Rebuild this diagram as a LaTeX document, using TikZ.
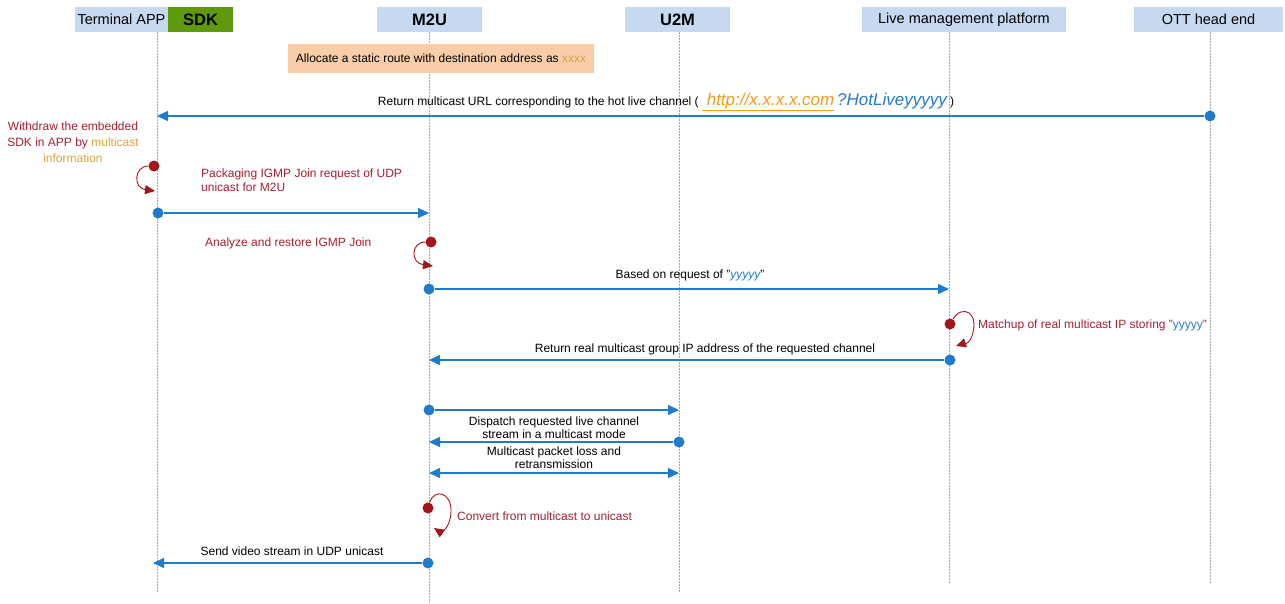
\documentclass[tikz,border=0pt]{standalone}
\usepackage{fontspec}
\setmainfont{Liberation Sans}
\usetikzlibrary{arrows.meta}
\definecolor{hdr}{HTML}{C6D9F1}
\definecolor{sdkg}{HTML}{5E9A0C}
\definecolor{msgblue}{HTML}{1F7BCB}
\definecolor{selfred}{HTML}{A3161C}
\definecolor{txtred}{HTML}{A32030}
\definecolor{gold}{HTML}{D9A441}
\definecolor{urlorange}{HTML}{F29B1D}
\definecolor{peach}{HTML}{F9CDA8}
\begin{document}
\begin{tikzpicture}[x=1pt,y=-1pt,
 hdrbox/.style={fill=hdr, draw=none, inner sep=0, minimum height=25pt, font=\fontsize{14.5}{16}\selectfont},
 hdrbold/.style={hdrbox, font=\fontsize{16.5}{18}\selectfont\bfseries},
 life/.style={draw=gray!70, dash pattern=on 1.5pt off 1.5pt, line width=0.7pt},
 msg/.style={draw=msgblue, line width=1.2pt, -{Triangle[length=11pt,width=10pt]}},
 dmsg/.style={draw=msgblue, line width=1.2pt, {Triangle[length=11pt,width=10pt]}-{Triangle[length=11pt,width=10pt]}},
 dot/.style={circle, fill=msgblue, inner sep=0, minimum size=11pt},
 rdot/.style={circle, fill=selfred, inner sep=0, minimum size=11pt},
 selfarr/.style={draw=selfred, line width=0.9pt, -{Triangle[length=10pt,width=9pt]}},
 lbl/.style={font=\fontsize{12}{14}\selectfont, text=black, inner sep=0},
 rlbl/.style={font=\fontsize{12}{14}\selectfont, text=txtred, inner sep=0},
]
\useasboundingbox (0,0) rectangle (1285,603);

% headers
\node[hdrbox, minimum width=93pt] (term) at (121.5,19.5) {Terminal APP};
\node[hdrbold, fill=sdkg, minimum width=65pt] (sdk) at (200.5,19.5) {SDK};
\node[hdrbold, minimum width=105pt] (m2u) at (429.5,19.5) {M2U};
\node[hdrbold, minimum width=105pt] (u2m) at (677.5,19.5) {U2M};
\node[hdrbox, minimum width=204pt] (live) at (964,19.5) {Live management platform};
\node[hdrbox, minimum width=149pt] (ott) at (1208.5,19.5) {OTT head end};

% lifelines
\draw[life] (157,32) -- (157,593);
\draw[life] (429,32) -- (429,603);
\draw[life] (679,32) -- (679,593);
\draw[life] (949,32) -- (949,584);
\draw[life] (1210,32) -- (1210,584);

% static route note
\node[fill=peach, minimum width=306pt, minimum height=29pt, inner sep=0, font=\fontsize{12}{14}\selectfont] (note) at (441,58.5) {Allocate a static route with destination address as \textcolor{gold}{xxxx}};

% message 1
\node[dot] (d1) at (1210,116) {};
\coordinate (a1) at (157,116);
\draw[msg] (d1) -- (a1);
\node[lbl, anchor=base] (l1) at (666,105) {Return multicast URL corresponding to the hot live channel (\ {\fontsize{17}{18}\selectfont\itshape\textcolor{urlorange}{\underline{\ http://x.x.x.x.com}}\,\textcolor{msgblue}{?HotLiveyyyyy}}\ )};

% withdraw note
\node[rlbl, align=center, font=\fontsize{12}{16}\selectfont] (wd) at (73,142) {Withdraw the embedded\\SDK in APP by \textcolor{gold}{multicast}\\\textcolor{gold}{information}};

% self loop 1
\node[rdot] (r1) at (154,166) {};
\coordinate (r1e) at (155,191);
\draw[selfarr] (r1) .. controls (134,166) and (133,188) .. (r1e);
\node[rlbl, anchor=west, align=left, font=\fontsize{12}{14}\selectfont] (pk) at (201,180) {Packaging IGMP Join request of UDP\\unicast for M2U};

% message 2
\node[dot] (d2) at (158,213) {};
\coordinate (a2) at (429,213);
\draw[msg] (d2) -- (a2);

% self loop 2
\node[rdot] (r2) at (431,242) {};
\coordinate (r2e) at (433,266);
\draw[selfarr] (r2) .. controls (411,242) and (410,263) .. (r2e);
\node[rlbl, anchor=west] (an) at (205,243) {Analyze and restore IGMP Join};

% message 3
\node[dot] (d3) at (429,289) {};
\coordinate (a3) at (949,289);
\draw[msg] (d3) -- (a3);
\node[lbl] (l3) at (690,275) {Based on request of "\textcolor{msgblue}{\itshape yyyyy}"};

% self loop 3
\node[rdot] (r3) at (950,324) {};
\coordinate (r3e) at (956,346);
\draw[selfarr] (r3) .. controls (962,304) and (980,312) .. (972,336) .. controls (968,346) and (962,344) .. (r3e);
\node[rlbl, anchor=west] (mt) at (978,325) {Matchup of real multicast IP storing "\textcolor{msgblue}{yyyyy}"};

% message 4
\node[dot] (d4) at (950,360) {};
\coordinate (a4) at (429,360);
\draw[msg] (d4) -- (a4);
\node[lbl] (l4) at (705,349) {Return real multicast group IP address of the requested channel};

% message 5
\node[dot] (d5) at (429,410) {};
\coordinate (a5) at (679,410);
\draw[msg] (d5) -- (a5);
\node[lbl, align=center, font=\fontsize{12}{13}\selectfont] (l5) at (554,428) {Dispatch requested live channel\\stream in a multicast mode};

% message 6
\node[dot] (d6) at (679,442) {};
\coordinate (a6) at (429,442);
\draw[msg] (d6) -- (a6);
\node[lbl, align=center, font=\fontsize{12}{13}\selectfont] (l6) at (554,458) {Multicast packet loss and\\retransmission};

% message 7
\coordinate (b7) at (429,473);
\coordinate (c7) at (679,473);
\draw[dmsg] (b7) -- (c7);

% self loop 4
\node[rdot] (r4) at (428,508) {};
\coordinate (r4e) at (434,528);
\draw[selfarr] (r4) .. controls (434,488) and (452,492) .. (451,512) .. controls (450,530) and (440,532) .. (r4e);
\node[rlbl, anchor=west] (cv) at (457,516) {Convert from multicast to unicast};

% message 8
\node[dot] (d8) at (428,563) {};
\coordinate (a8) at (153,563);
\draw[msg] (d8) -- (a8);
\node[lbl] (l8) at (292,551) {Send video stream in UDP unicast};
\end{tikzpicture}
\end{document}
